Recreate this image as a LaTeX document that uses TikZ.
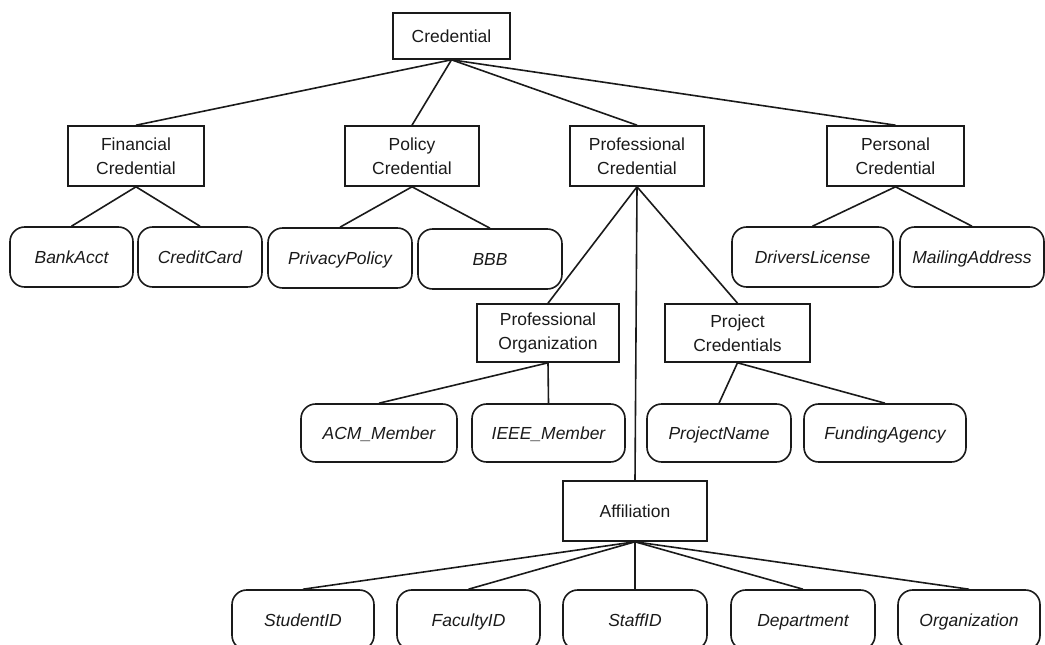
\documentclass[tikz,border=0pt]{standalone}
\usepackage{fontspec}
\setmainfont{Liberation Sans}
\usetikzlibrary{positioning}
\usepackage{xcolor}
\definecolor{TreeInk}{HTML}{1A1A1A}
\tikzset{
    % Box styles
    category/.style={
        rectangle,
        draw=TreeInk,
        line width=1.2pt,
        minimum width=100.5pt,
        minimum height=45pt,
        inner sep=2pt,
        align=center,
        text=TreeInk,
        font=\fontsize{13.1}{18}\selectfont
    },
    attribute/.style={
        rectangle,
        rounded corners=11pt,
        draw=TreeInk,
        line width=1.2pt,
        minimum width=108pt,
        minimum height=45pt,
        inner sep=2pt,
        text height=9.5pt,
        text depth=0.5pt,
        align=center,
        text=TreeInk,
        font=\fontsize{13.1}{18}\selectfont\itshape
    },
    % Connector style - straight lines only
    link/.style={
        line width=1.2pt,
        draw=TreeInk
    }
}
\begin{document}
\begin{tikzpicture}[x=0.75pt, y=-0.75pt]
    \clip (0,0) rectangle (1045,645);

    % root and first level
    \node[category, minimum width=87.75pt, minimum height=34.5pt] (cred) at (451.5,36) {Credential};
    \node[category, minimum width=102pt] (fin) at (136,156) {Financial\\Credential};
    \node[category] (pol) at (412,156) {Policy\\Credential};
    \node[category] (prof) at (637,156) {Professional\\Credential};
    \node[category, minimum width=102.75pt] (pers) at (895.5,156) {Personal\\Credential};

    % leaves of the first level
    \node[attribute, minimum width=92.25pt] (bank) at (71.5,257) {BankAcct};
    \node[attribute, minimum width=93pt] (card) at (200,257) {CreditCard};
    \node[attribute] (privacy) at (340,258) {PrivacyPolicy};
    \node[attribute] (bbb) at (490,259) {BBB};
    \node[attribute, minimum width=120.75pt] (drivers) at (812.5,257) {DriversLicense};
    \node[attribute] (mailing) at (972,257) {MailingAddress};

    % second level under the professional branch
    \node[category, minimum width=106.5pt, minimum height=43.5pt] (org) at (548,333) {Professional\\Organization};
    \node[category, minimum width=108.75pt, minimum height=43.5pt] (proj) at (737.5,333) {Project\\Credentials};
    \node[attribute, minimum width=117pt, minimum height=43.5pt] (acm) at (379,433) {ACM\_Member};
    \node[attribute, minimum width=114.75pt, minimum height=43.5pt] (ieee) at (548.5,433) {IEEE\_Member};
    \node[attribute, minimum height=43.5pt] (pname) at (719,433) {ProjectName};
    \node[attribute, minimum width=121.5pt, minimum height=43.5pt] (funding) at (885,433) {FundingAgency};

    % affiliation and its leaves
    \node[category, minimum width=108pt] (aff) at (635,511) {Affiliation};
    \node[attribute, minimum width=106.5pt] (student) at (303,620) {StudentID};
    \node[attribute, minimum width=107.25pt] (faculty) at (468.5,620) {FacultyID};
    \node[attribute] (staff) at (635,620) {StaffID};
    \node[attribute] (dept) at (803,620) {Department};
    \node[attribute, minimum width=106.5pt] (orgn) at (969,620) {Organization};

    \draw[link] (cred.south) -- (fin.north);
    \draw[link] (cred.south) -- (pol.north);
    \draw[link] (cred.south) -- (prof.north);
    \draw[link] (cred.south) -- (pers.north);

    \draw[link] (fin.south) -- (bank.north);
    \draw[link] (fin.south) -- (card.north);
    \draw[link] (pol.south) -- (privacy.north);
    \draw[link] (pol.south) -- (bbb.north);
    \draw[link] (pers.south) -- (drivers.north);
    \draw[link] (pers.south) -- (mailing.north);

    \draw[link] (prof.south) -- (org.north);
    \draw[link] (prof.south) -- (proj.north);
    \draw[link] (prof.south) -- (aff.north);

    \draw[link] (org.south) -- (acm.north);
    \draw[link] (org.south) -- (ieee.north);
    \draw[link] (proj.south) -- (pname.north);
    \draw[link] (proj.south) -- (funding.north);

    \draw[link] (aff.south) -- (student.north);
    \draw[link] (aff.south) -- (faculty.north);
    \draw[link] (aff.south) -- (staff.north);
    \draw[link] (aff.south) -- (dept.north);
    \draw[link] (aff.south) -- (orgn.north);
\end{tikzpicture}
\end{document}
